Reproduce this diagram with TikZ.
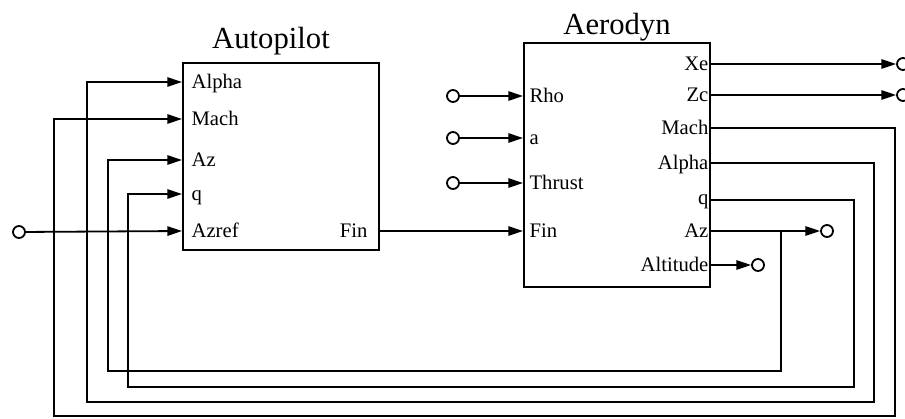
\documentclass[tikz,border=0pt]{standalone}
\usepackage{fontspec}
\setmainfont{Liberation Serif}
\usetikzlibrary{arrows.meta}
\begin{document}
\begin{tikzpicture}[x=0.75pt,y=-0.75pt,
  wire/.style={line width=1.35pt},
  arr/.style={wire,-{Triangle[length=11pt,width=7pt]}},
  term/.style={circle,draw,line width=1.35pt,minimum size=9pt,inner sep=0pt,fill=white},
  blk/.style={draw,line width=1.5pt,inner sep=0pt,anchor=north west},
  lbl/.style={font=\fontsize{15.5}{18}\selectfont,inner sep=1pt},
  inlbl/.style={lbl,anchor=base west},
  outlbl/.style={lbl,anchor=base east},
  ttl/.style={font=\fontsize{23}{26}\selectfont,anchor=base,inner sep=0pt}]
\useasboundingbox (0,0) rectangle (905,418);

% blocks
\node[blk,minimum width=147pt,minimum height=140.25pt] (ap) at (182,62) {};
\node[blk,minimum width=139.5pt,minimum height=183pt] (ae) at (523,42) {};
\node[ttl] (aptitle) at (271,48) {Autopilot};
\node[ttl] (aetitle) at (617,34) {Aerodyn};

% port coordinates
\coordinate (ap-alpha) at (182,82);
\coordinate (ap-mach) at (182,119);
\coordinate (ap-az) at (182,160);
\coordinate (ap-q) at (182,194);
\coordinate (ap-azref) at (182,231);
\coordinate (ap-fin) at (378,231);
\coordinate (ae-rho) at (523,96);
\coordinate (ae-a) at (523,138);
\coordinate (ae-thrust) at (523,183);
\coordinate (ae-fin) at (523,231);
\coordinate (ae-xe) at (709,64);
\coordinate (ae-zc) at (709,95);
\coordinate (ae-mach) at (709,128);
\coordinate (ae-alpha) at (709,163);
\coordinate (ae-q) at (709,200);
\coordinate (ae-az) at (709,231);
\coordinate (ae-alt) at (709,265);

% labels (baseline about 6px below the wire)
\node[inlbl] (l1) at (190,88) {Alpha};
\node[inlbl] (l2) at (190,125) {Mach};
\node[inlbl] (l3) at (190,166) {Az};
\node[inlbl] (l4) at (190,200) {q};
\node[inlbl] (l5) at (190,237) {Azref};
\node[outlbl] (l6) at (369,237) {Fin};
\node[inlbl] (l7) at (528,102) {Rho};
\node[inlbl] (l8) at (528,144) {a};
\node[inlbl] (l9) at (528,189) {Thrust};
\node[inlbl] (l10) at (528,237) {Fin};
\node[outlbl] (l11) at (710,70) {Xe};
\node[outlbl] (l12) at (710,101) {Zc};
\node[outlbl] (l13) at (710,134) {Mach};
\node[outlbl] (l14) at (710,169) {Alpha};
\node[outlbl] (l15) at (710,204) {q};
\node[outlbl] (l16) at (710,237) {Az};
\node[outlbl] (l17) at (710,271) {Altitude};

% terminals
\node[term] (src) at (19,232) {};
\node[term] (trho) at (453,96) {};
\node[term] (ta) at (453,138) {};
\node[term] (tthrust) at (453,183) {};
\node[term] (txe) at (903,64) {};
\node[term] (tzc) at (903,95) {};
\node[term] (taz) at (827,231) {};
\node[term] (talt) at (758,265) {};

% feedback loops
\draw[arr] (ae-mach) -- (895,128) -- (895,416) -- (54,416) -- (54,119) -- (ap-mach);
\draw[arr] (ae-alpha) -- (874,163) -- (874,402) -- (87,402) -- (87,82) -- (ap-alpha);
\draw[arr] (ae-q) -- (854,200) -- (854,387) -- (128,387) -- (128,194) -- (ap-q);
\coordinate (azsplit) at (781,231);
\draw[arr] (azsplit) -- (781,371) -- (108,371) -- (108,160) -- (ap-az);
\draw[arr] (ae-az) -- (taz);

% other connections
\draw[arr] (src) -- (ap-azref);
\draw[arr] (ap-fin) -- (ae-fin);
\draw[arr] (trho) -- (ae-rho);
\draw[arr] (ta) -- (ae-a);
\draw[arr] (tthrust) -- (ae-thrust);
\draw[arr] (ae-xe) -- (txe);
\draw[arr] (ae-zc) -- (tzc);
\draw[arr] (ae-alt) -- (talt);
\end{tikzpicture}
\end{document}
